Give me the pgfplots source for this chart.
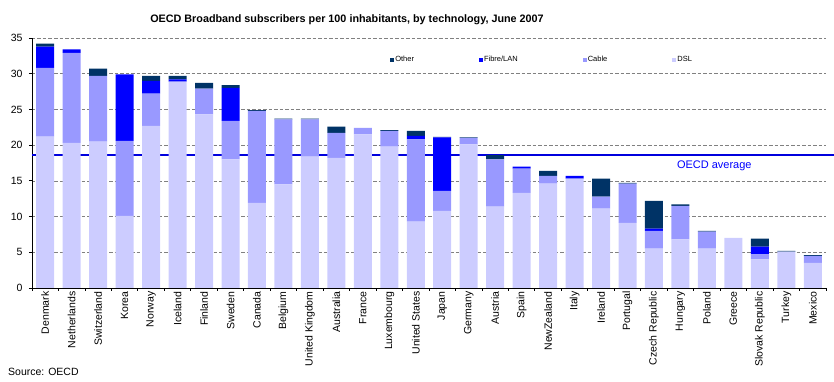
\documentclass[border=0pt]{standalone}
\usepackage{fontspec}
\setmainfont{Liberation Sans}
\usepackage{pgfplots}
\usepackage{pgfplotstable}
\pgfplotsset{compat=1.18}
\definecolor{dsl}{HTML}{CCCCFF}
\definecolor{cable}{HTML}{9999FF}
\definecolor{fibre}{HTML}{0000FF}
\definecolor{other}{HTML}{003366}
\definecolor{avgline}{HTML}{0000DD}
\pgfplotstableread{
idx dsl cable fibre other
0 21.2 9.6 3.0 0.4
1 20.3 12.6 0.5 0.0
2 20.5 9.2 0.0 1.0
3 10.1 10.5 9.3 0.0
4 22.7 4.5 1.8 0.7
5 28.9 0.0 0.3 0.5
6 24.3 3.6 0.0 0.8
7 18.0 5.4 4.6 0.4
8 11.9 12.9 0.0 0.1
9 14.5 9.1 0.0 0.1
10 18.4 5.2 0.0 0.1
11 18.2 3.5 0.0 0.9
12 21.5 0.9 0.0 0.0
13 19.8 2.2 0.0 0.1
14 9.3 11.5 0.5 0.7
15 10.8 2.8 7.5 0.05
16 20.1 0.9 0.0 0.1
17 11.4 6.6 0.0 0.6
18 13.3 3.4 0.3 0.0
19 14.6 1.1 0.0 0.7
20 15.3 0.0 0.4 0.0
21 11.1 1.7 0.0 2.5
22 9.1 5.5 0.0 0.1
23 5.5 2.5 0.3 3.9
24 6.8 4.7 0.0 0.2
25 5.5 2.4 0.0 0.1
26 7.0 0.0 0.0 0.0
27 4.0 0.7 1.1 1.1
28 5.1 0.0 0.0 0.1
29 3.5 1.0 0.0 0.1
}\datatable
\pgfplotsset{sq/.style={legend image code/.code={\fill[##1] (0pt,-2pt) rectangle (4pt,2pt);}}}
\begin{document}
\begin{tikzpicture}
\useasboundingbox (-32pt,-94pt) rectangle (802pt,288pt);
\begin{axis}[
  at={(0pt,0pt)}, anchor=south west,
  scale only axis, width=794pt, height=250pt,
  ybar stacked, bar width=18pt,
  xmin=-0.5, xmax=29.5, ymin=0, ymax=35,
  clip=false,
  axis x line*=bottom, axis y line*=left,
  axis line style={black, line width=0.9pt},
  ytick={0,5,...,35},
  ymajorgrids, grid style={gray, dashed, line width=0.6pt, dash pattern=on 3.5pt off 2pt},
  tick align=outside, major tick length=3pt,
  tick style={black, line width=0.8pt},
  xtick={-0.5,0.5,...,29.5}, xticklabels={},
  extra x ticks={0,...,29},
  extra x tick labels={Denmark,Netherlands,Switzerland,Korea,Norway,Iceland,Finland,Sweden,Canada,Belgium,United Kingdom,Australia,France,Luxembourg,United States,Japan,Germany,Austria,Spain,NewZealand,Italy,Ireland,Portugal,Czech Republic,Hungary,Poland,Greece,Slovak Republic,Turkey,Mexico},
  extra x tick style={major tick length=0pt, grid=none, tick label style={rotate=90, anchor=east, font=\fontsize{10.5}{12}\selectfont, yshift=0pt}},
  yticklabel style={font=\fontsize{10.5}{12}\selectfont, xshift=-3pt},
  /pgf/number format/assume math mode=true,
  reverse legend,
  legend columns=4,
  legend style={at={(rel axis cs:0.451,0.912)}, anchor=west, draw=none, fill=none, inner sep=0pt,
    font=\fontsize{7.5}{9}\selectfont,
    nodes={inner sep=1pt},
    /tikz/every even column/.append style={column sep=64pt}},
]
\addplot[fill=dsl, draw=none, sq] table[x=idx, y=dsl] {\datatable};
\addlegendentry{DSL}
\addplot[fill=cable, draw=none, sq] table[x=idx, y=cable] {\datatable};
\addlegendentry{Cable}
\addplot[fill=fibre, draw=none, sq] table[x=idx, y=fibre] {\datatable};
\addlegendentry{Fibre/LAN}
\addplot[fill=other, draw=none, sq] table[x=idx, y=other] {\datatable};
\addlegendentry{Other}
\draw[draw=avgline, line width=1.3pt, solid] (axis cs:-0.5,18.6) -- (axis cs:29.8,18.6);
\node[text=fibre, font=\fontsize{11}{13}\selectfont] at (axis cs:25.28,17.1) {OECD average};
\end{axis}
\node[font=\bfseries\fontsize{10.8}{13}\selectfont] at (315pt,268pt) {OECD Broadband subscribers per 100 inhabitants, by technology, June 2007};
\node[font=\fontsize{10.5}{12}\selectfont, anchor=west, inner sep=0pt] at (-24pt,-84pt) {Source: OECD};
\end{tikzpicture}
\end{document}
